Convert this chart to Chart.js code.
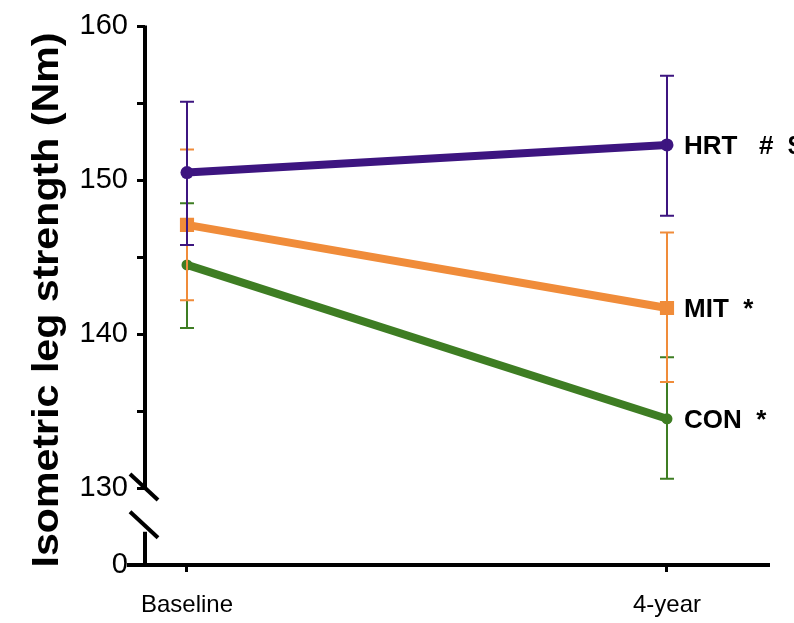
<!DOCTYPE html>
<html>
<head>
<meta charset="utf-8">
<title>Isometric leg strength</title>
<script src="https://cdn.jsdelivr.net/npm/chart.js@4"></script>
<style>
    html, body { margin: 0; padding: 0; background: #fff; }
    canvas { display: block; }
</style>
</head>
<body>
<canvas id="strengthChart" width="794" height="623"></canvas>
<script>
// data
const categories = ['Baseline', '4-year'];
const xPositions = [0, 1];

const hrtMean  = [150.5, 152.3];
const hrtUpper = [155.1, 156.8];
const hrtLower = [145.8, 147.7];

const mitMean  = [147.1, 141.7];
const mitUpper = [152.0, 146.6];
const mitLower = [142.2, 136.9];

const conMean  = [144.5, 134.5];
const conUpper = [148.5, 138.5];
const conLower = [140.4, 130.6];

const seriesNames = ['HRT', 'MIT', 'CON'];
const seriesMarks = [' #  $', '*', '*'];

// broken axis: the bottom tick stands for 0
const yTickValues = [125, 130, 135, 140, 145, 150, 155, 160];
const yTickLabels = ['0', '130', '', '140', '', '150', '', '160'];
const yTitle = 'Isometric leg strength (Nm)';

const FONT = "'Liberation Sans', Arial, Helvetica, sans-serif";

const SERIES = [
    { name: seriesNames[0], mark: seriesMarks[0], mean: hrtMean, upper: hrtUpper, lower: hrtLower,
      color: '#3d1580', pointStyle: 'circle', radius: 6.5 },
    { name: seriesNames[1], mark: seriesMarks[1], mean: mitMean, upper: mitUpper, lower: mitLower,
      color: '#f08c3a', pointStyle: 'rect', radius: 10 },
    { name: seriesNames[2], mark: seriesMarks[2], mean: conMean, upper: conUpper, lower: conLower,
      color: '#3e7d23', pointStyle: 'circle', radius: 5.5 },
];

const datasets = SERIES.map(s => ({
    label: s.name,
    data: xPositions.map((x, i) => ({ x, y: s.mean[i] })),
    borderColor: s.color,
    backgroundColor: s.color,
    borderWidth: 8,
    pointStyle: s.pointStyle,
    pointRadius: s.radius,
    pointBorderWidth: 0,
    tension: 0,
}));

// error bars, axis lines with the break, end labels and the y title
const decorations = {
    id: 'decorations',
    afterDatasetsDraw(chart) {
        const { ctx, scales: { x, y } } = chart;
        ctx.save();
        ctx.lineWidth = 2;
        [...SERIES].reverse().forEach(s => {
            ctx.strokeStyle = s.color;
            xPositions.forEach((xv, i) => {
                const px = x.getPixelForValue(xv);
                const top = y.getPixelForValue(s.upper[i]);
                const bot = y.getPixelForValue(s.lower[i]);
                ctx.beginPath();
                ctx.moveTo(px, top);
                ctx.lineTo(px, bot);
                ctx.moveTo(px - 7, top);
                ctx.lineTo(px + 7, top);
                ctx.moveTo(px - 7, bot);
                ctx.lineTo(px + 7, bot);
                ctx.stroke();
            });
        });
        ctx.restore();
    },
    afterDraw(chart) {
        const { ctx, chartArea, scales: { x, y } } = chart;
        const ax = chartArea.left;
        const bottom = y.getPixelForValue(125);
        const breakTop = y.getPixelForValue(130);
        const breakBot = y.getPixelForValue(127.55);

        ctx.save();
        ctx.strokeStyle = '#000';
        ctx.lineWidth = 4;
        ctx.lineCap = 'butt';

        // y axis, upper part
        ctx.beginPath();
        ctx.moveTo(ax, y.getPixelForValue(160) - 1);
        ctx.lineTo(ax, breakTop + 2);
        ctx.stroke();
        // y axis, lower part
        ctx.beginPath();
        ctx.moveTo(ax, breakBot + 6);
        ctx.lineTo(ax, bottom);
        ctx.stroke();
        // break slashes
        [breakTop, breakBot].forEach(py => {
            ctx.beginPath();
            ctx.moveTo(ax - 15, py - 14);
            ctx.lineTo(ax + 13, py + 12);
            ctx.stroke();
        });
        // x axis
        ctx.beginPath();
        ctx.moveTo(ax - 18, bottom);
        ctx.lineTo(chartArea.right, bottom);
        ctx.stroke();

        // labels at the end of each line
        ctx.fillStyle = '#000';
        ctx.font = 'bold 26px ' + FONT;
        ctx.textAlign = 'left';
        ctx.textBaseline = 'alphabetic';
        SERIES.forEach((s, i) => {
            const meta = chart.getDatasetMeta(i);
            const last = meta.data[meta.data.length - 1];
            ctx.fillText(s.name + '  ' + s.mark, last.x + 17, last.y + 9);
        });

        // y axis title, stretched along its length like the original
        ctx.font = 'bold 36px ' + FONT;
        const w = ctx.measureText(yTitle).width;
        const target = 535;
        ctx.translate(58, 300);
        ctx.rotate(-Math.PI / 2);
        ctx.scale(target / w, 1);
        ctx.textAlign = 'center';
        ctx.fillText(yTitle, 0, 0);
        ctx.restore();
    }
};

new Chart(document.getElementById('strengthChart').getContext('2d'), {
    type: 'line',
    data: { datasets },
    options: {
        responsive: false,
        animation: false,
        layout: { padding: { top: 23, right: 24, left: 0, bottom: 0 } },
        plugins: {
            legend: { display: false },
            tooltip: { enabled: false },
        },
        scales: {
            x: {
                type: 'linear',
                min: -0.0875,
                max: 1.2146,
                afterBuildTicks: scale => { scale.ticks = xPositions.map(v => ({ value: v })); },
                afterFit: scale => { scale.height = 58; },
                border: { display: false },
                grid: {
                    drawOnChartArea: false,
                    drawTicks: true,
                    tickLength: 7,
                    lineWidth: 3,
                    color: '#000',
                },
                ticks: {
                    autoSkip: false,
                    maxRotation: 0,
                    padding: 19,
                    color: '#000',
                    font: { family: FONT, size: 24 },
                    callback: (value, index) => categories[index],
                },
            },
            y: {
                type: 'linear',
                min: 125,
                max: 160,
                afterBuildTicks: scale => { scale.ticks = yTickValues.map(v => ({ value: v })); },
                afterFit: scale => { scale.width = 145; },
                border: { display: false },
                grid: {
                    drawOnChartArea: false,
                    drawTicks: true,
                    tickLength: 8,
                    lineWidth: 3,
                    color: '#000',
                },
                ticks: {
                    autoSkip: false,
                    padding: 9,
                    color: '#000',
                    font: { family: FONT, size: 29 },
                    callback: (value, index) => yTickLabels[index],
                },
            },
        },
    },
    plugins: [decorations],
});
</script>
</body>
</html>
